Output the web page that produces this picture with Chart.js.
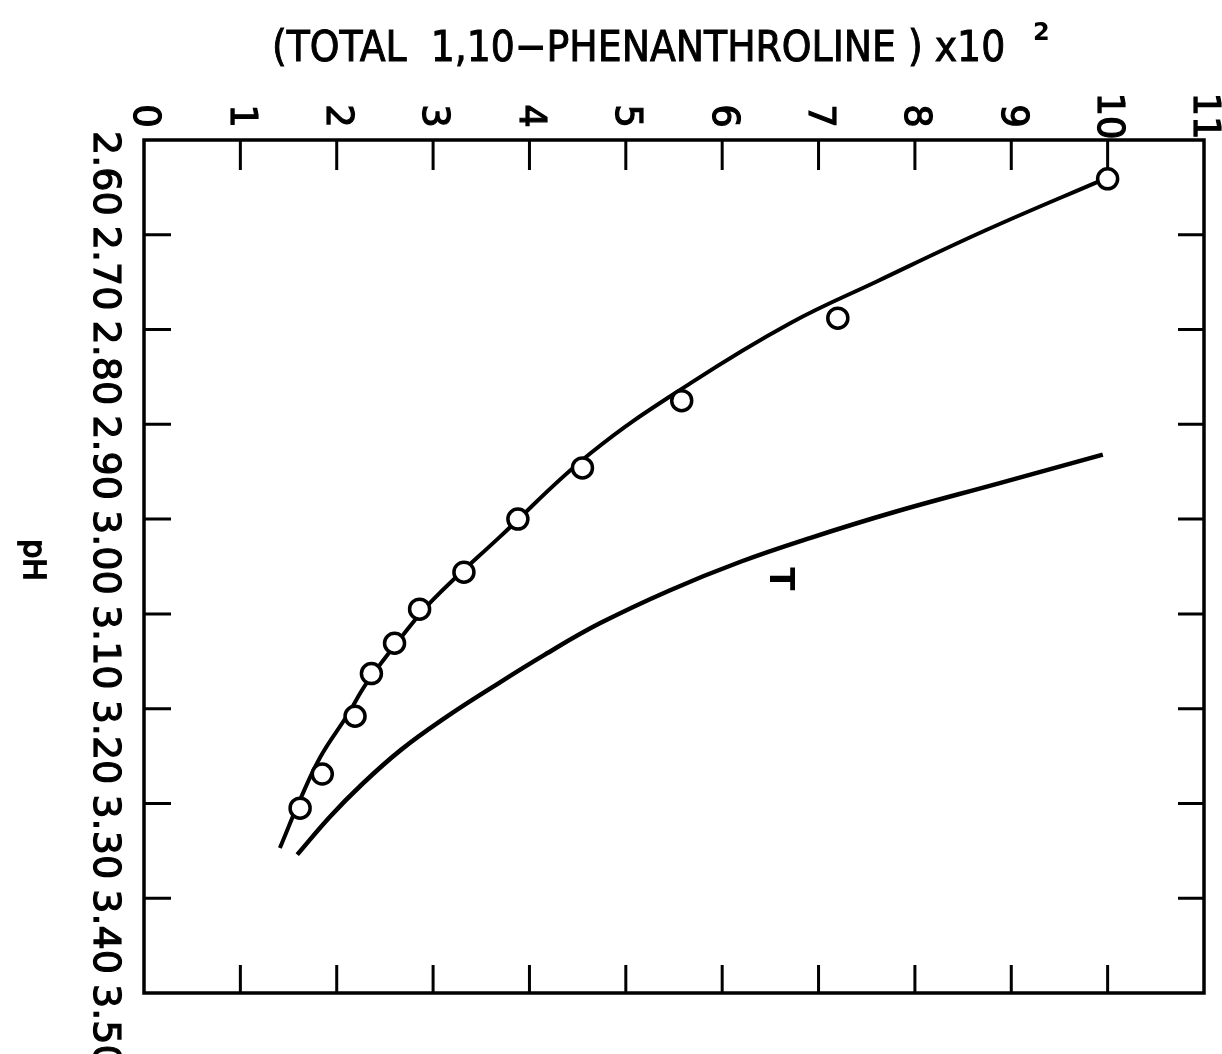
<!DOCTYPE html>
<html>
<head>
<meta charset="utf-8">
<title>pH vs total 1,10-phenanthroline</title>
<script src="https://cdn.jsdelivr.net/npm/chart.js@4.4.1/dist/chart.umd.min.js"></script>
<style>
    body { margin: 0; background: #fff; }
    #wrap { width: 1222px; height: 1054px; }
</style>
</head>
<body>
<div id="wrap"><canvas id="chart" width="1222" height="1054"></canvas></div>
<script>
// axis ticks
var concTicks = [0, 1, 2, 3, 4, 5, 6, 7, 8, 9, 10, 11];
var concTickLabels = ['0', '1', '2', '3', '4', '5', '6', '7', '8', '9', '10', '11'];
var pHTicks = [2.60, 2.70, 2.80, 2.90, 3.00, 3.10, 3.20, 3.30, 3.40, 3.50];
var pHTickLabels = ['2.60', '2.70', '2.80', '2.90', '3.00', '3.10', '3.20', '3.30', '3.40', '3.50'];

// measured points (open circles)
var measuredConc = [10.0, 7.20, 5.58, 4.55, 3.88, 3.32, 2.86, 2.60, 2.36, 2.19, 1.85, 1.62];
var measuredPH = [2.641, 2.788, 2.875, 2.946, 3.000, 3.056, 3.095, 3.131, 3.163, 3.208, 3.269, 3.305];

// curve drawn through the points
var fitConc = [9.97, 8.74, 7.61, 6.71, 5.68, 4.64, 3.69, 3.00, 2.69, 2.31, 2.11, 1.83, 1.62, 1.41];
var fitPH = [2.641, 2.695, 2.749, 2.793, 2.856, 2.930, 3.019, 3.085, 3.122, 3.173, 3.207, 3.251, 3.296, 3.347];

// curve T
var tConc = [9.95, 8.88, 7.77, 6.91, 6.19, 5.46, 4.73, 4.16, 3.62, 3.12, 2.66, 2.26, 1.93, 1.59];
var tPH = [2.932, 2.962, 2.993, 3.020, 3.045, 3.075, 3.110, 3.143, 3.177, 3.210, 3.244, 3.280, 3.314, 3.354];

function toPoints(xs, ys) {
    return xs.map(function (x, i) { return { x: x, y: ys[i] }; });
}

var font = 'DejaVu Sans, Liberation Sans, sans-serif';

// text turned a quarter turn clockwise, drawn a little heavier like the lettering
function rotText(ctx, text, x, y, align, weight) {
    ctx.save();
    ctx.translate(x, y);
    ctx.rotate(Math.PI / 2);
    ctx.textAlign = align;
    ctx.textBaseline = 'middle';
    ctx.fillText(text, 0, 0);
    if (weight) {
        ctx.lineWidth = weight;
        ctx.strokeText(text, 0, 0);
    }
    ctx.restore();
}

var framePlugin = {
    id: 'frame',
    afterDraw: function (chart) {
        var ctx = chart.ctx;
        var a = chart.chartArea;
        var xs = chart.scales.x;
        var ys = chart.scales.y;
        ctx.save();
        ctx.strokeStyle = '#000';
        ctx.fillStyle = '#000';
        ctx.lineWidth = 3.5;
        ctx.strokeRect(a.left, a.top, a.right - a.left, a.bottom - a.top);

        // inward ticks
        ctx.lineWidth = 3;
        ctx.beginPath();
        concTicks.forEach(function (v) {
            if (v === 0 || v === 11) return;
            var px = xs.getPixelForValue(v);
            ctx.moveTo(px, a.top);
            ctx.lineTo(px, a.top + 30);
            ctx.moveTo(px, a.bottom);
            ctx.lineTo(px, a.bottom - 28);
        });
        pHTicks.forEach(function (v, i) {
            if (i === 0 || i === pHTicks.length - 1) return;
            var py = ys.getPixelForValue(v);
            ctx.moveTo(a.left, py);
            ctx.lineTo(a.left + 27, py);
            ctx.moveTo(a.right, py);
            ctx.lineTo(a.right - 26, py);
        });
        ctx.stroke();

        // tick labels
        ctx.font = '37px ' + font;
        concTicks.forEach(function (v, i) {
            rotText(ctx, concTickLabels[i], xs.getPixelForValue(v), 116, 'center', 1.2);
        });
        ctx.font = '38px ' + font;
        pHTicks.forEach(function (v, i) {
            rotText(ctx, pHTickLabels[i], 104, ys.getPixelForValue(v) - 9, 'left', 1.2);
        });

        // axis labels
        ctx.font = '30px ' + font;
        rotText(ctx, 'pH', 32, 560, 'center', 1.8);

        ctx.save();
        ctx.translate(272, 61);
        ctx.scale(0.9, 1);
        ctx.font = '42px ' + font;
        ctx.textAlign = 'left';
        ctx.textBaseline = 'alphabetic';
        ctx.lineWidth = 1;
        ctx.fillText('(TOTAL  1,10\u2212PHENANTHROLINE ) x10', 0, 0);
        ctx.strokeText('(TOTAL  1,10\u2212PHENANTHROLINE ) x10', 0, 0);
        ctx.restore();
        ctx.font = 'bold 24px ' + font;
        ctx.textAlign = 'left';
        ctx.textBaseline = 'alphabetic';
        ctx.fillText('2', 1033, 40);

        // curve label
        ctx.font = 'bold 34px ' + font;
        rotText(ctx, 'T', xs.getPixelForValue(6.59), ys.getPixelForValue(3.063), 'center');
        ctx.restore();
    }
};

var ctx = document.getElementById('chart').getContext('2d');
var chart = new Chart(ctx, {
    type: 'scatter',
    data: {
        datasets: [{
            label: 'measured',
            data: toPoints(measuredConc, measuredPH),
            pointRadius: 10,
            pointBorderWidth: 3.5,
            pointBorderColor: '#000',
            pointBackgroundColor: '#fff',
            showLine: false
        }, {
            label: 'fit',
            data: toPoints(fitConc, fitPH),
            showLine: true,
            borderColor: '#000',
            borderWidth: 4,
            pointRadius: 0,
            tension: 0.4
        }, {
            label: 'T',
            data: toPoints(tConc, tPH),
            showLine: true,
            borderColor: '#000',
            borderWidth: 4.5,
            pointRadius: 0,
            tension: 0.4
        }]
    },
    options: {
        responsive: false,
        animation: false,
        events: [],
        layout: {
            padding: { left: 144, top: 140, right: 18, bottom: 61 }
        },
        plugins: {
            legend: { display: false },
            tooltip: { enabled: false }
        },
        scales: {
            x: { type: 'linear', min: 0, max: 11, display: false },
            y: { type: 'linear', min: 2.6, max: 3.5, reverse: true, display: false }
        }
    },
    plugins: [framePlugin]
});
</script>
</body>
</html>
